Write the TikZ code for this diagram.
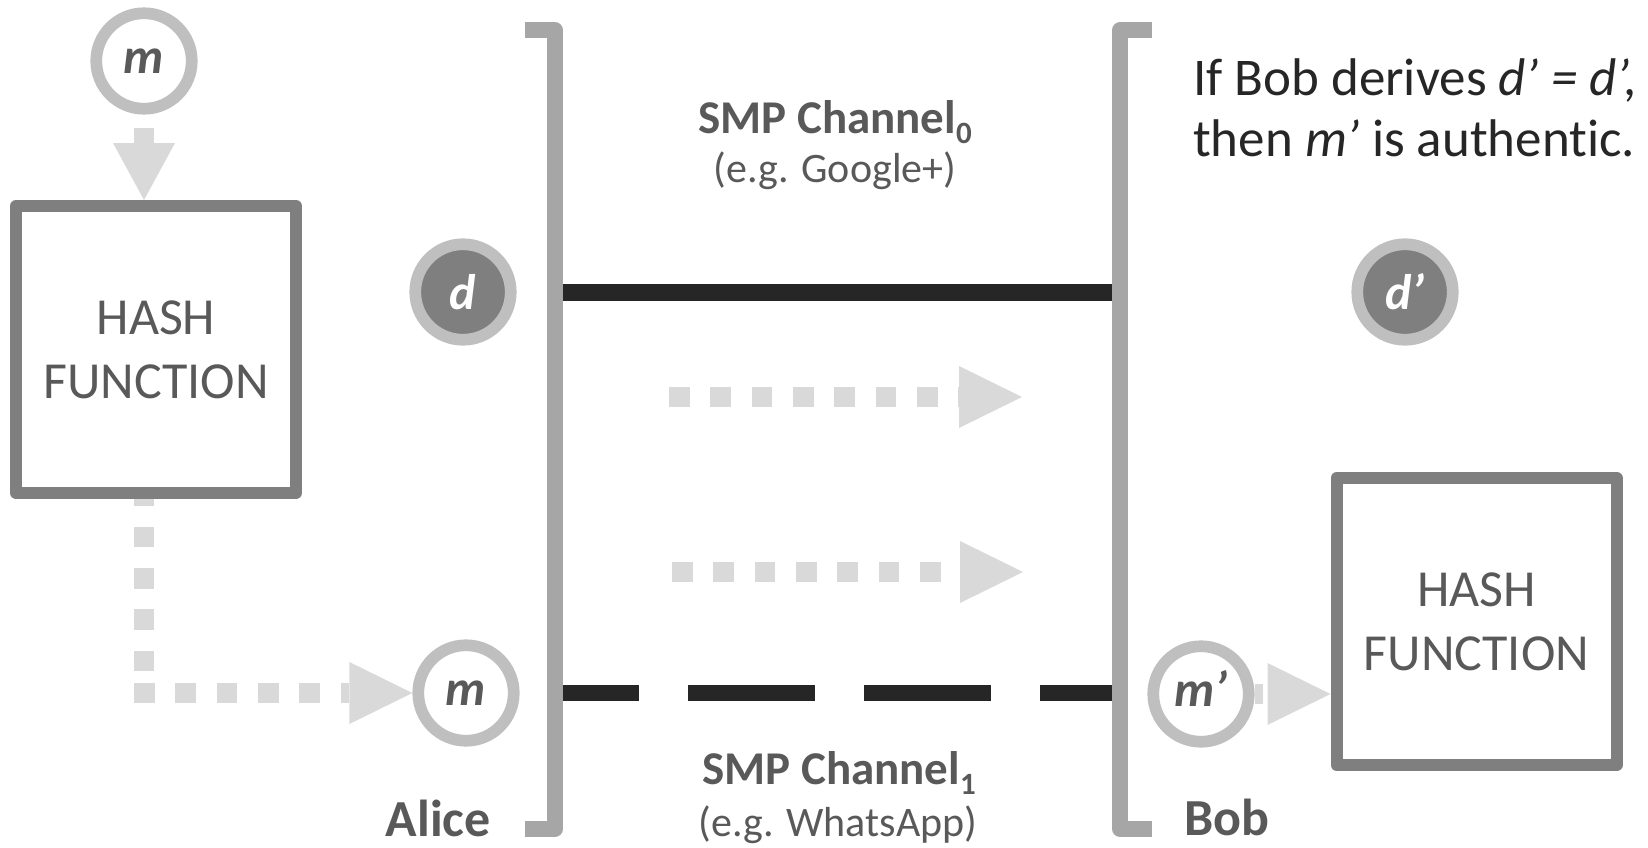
\documentclass[tikz,border=0pt]{standalone}
\usepackage{fontspec}
\setmainfont{Carlito}[Ligatures=NoCommon]
\usetikzlibrary{arrows.meta,calc}

\definecolor{arrowgrey}{HTML}{D9D9D9}
\definecolor{ringgrey}{HTML}{BFBFBF}
\definecolor{fillgrey}{HTML}{7F7F7F}
\definecolor{boxgrey}{HTML}{7F7F7F}
\definecolor{bargrey}{HTML}{A6A6A6}
\definecolor{chandark}{HTML}{262626}
\definecolor{labelgrey}{HTML}{595959}
\definecolor{notedark}{HTML}{262626}

\tikzset{
  ring/.style={circle, draw=ringgrey, line width=11.7pt, minimum size=95.5pt,
    inner sep=0pt, fill=white, text=labelgrey,
    font=\fontsize{50}{50}\selectfont\bfseries\itshape},
  digest/.style={ring, fill=fillgrey, text=white},
  hashbox/.style={rectangle, draw=boxgrey, line width=12pt, line join=round,
    fill=white, minimum width=280pt, minimum height=287pt, inner sep=0pt,
    align=center, text=labelgrey, font=\fontsize{52}{64}\selectfont},
  lightdots/.style={draw=arrowgrey, line width=20.7pt,
    dash pattern=on 20.7pt off 20.6pt},
  headlong/.style={-{Triangle[length=63pt, width=62pt, line width=0pt]}},
  headshort/.style={-{Triangle[length=57pt, width=62pt, line width=0pt]}},
  bracketline/.style={draw=bargrey, line width=15.5pt, line join=round},
  chansolid/.style={draw=chandark, line width=17pt},
  chandashed/.style={draw=chandark, line width=16pt,
    dash pattern=on 127pt off 49pt, dash phase=43pt},
  chantitle/.style={anchor=base, inner sep=0pt, text=labelgrey,
    font=\fontsize{47}{47}\selectfont\bfseries},
  chansub/.style={anchor=base, inner sep=0pt, text=labelgrey,
    font=\fontsize{42}{42}\selectfont},
  party/.style={inner sep=0pt, text=labelgrey,
    font=\fontsize{52}{52}\selectfont\bfseries},
  note/.style={anchor=base west, inner sep=0pt, text=notedark,
    font=\fontsize{53}{60}\selectfont},
}

\newcommand{\chanidx}[1]{\raisebox{-10pt}{\fontsize{31}{31}\selectfont #1}}

\begin{document}
\begin{tikzpicture}[x=1pt,y=-1pt]
\useasboundingbox (0,0) rectangle (1648,848);

% positions of the two parties' bars
\coordinate (abar) at (555,0);
\coordinate (bbar) at (1120,0);

% message, hash boxes and digests
\node[ring]    (mtop)  at (144,61)      {m};
\node[hashbox] (hash1) at (156,349.5)   {HASH\\FUNCTION};
\node[digest]  (dA)    at (463,292)     {d};
\node[ring]    (mA)    at (466,693)     {m};
\node[digest]  (dB)    at (1405,292)    {d\smash{’}};
\node[ring]    (mB)    at (1201,694)    {m\smash{’}};
\node[hashbox] (hash2) at (1476.5,621.5) {HASH\\FUNCTION};

% light dotted arrows
\draw[lightdots, headshort, dash phase=27.8pt] (mtop.south) -- (mtop.south |- hash1.north);

% elbow from the left hash box down and across to Alice's message
\coordinate (elbowtop) at ($(mtop.south |- mA.west)+(0,-10)$);
\coordinate (elbowleft) at ($(mtop.south |- mA.west)+(-10,0)$);
\draw[lightdots, dash phase=13.7pt] (mtop.south |- hash1.south) -- (elbowtop);
\draw[lightdots, headlong] (elbowleft) -- (mA.west);

\draw[lightdots, headlong, dash phase=12.7pt] (mB.east) -- (mB.east -| hash2.west);

\coordinate (flow0s) at (669,397);
\coordinate (flow0e) at (1022,397);
\coordinate (flow1s) at (672,572);
\coordinate (flow1e) at (1023,572);
\draw[lightdots, headlong] (flow0s) -- (flow0e);
\draw[lightdots, headlong] (flow1s) -- (flow1e);

% the two SMP channels
\draw[chansolid]  (dA -| abar) -- (dA -| bbar);
\draw[chandashed] (mA -| abar) -- (mA -| bbar);

% brackets of Alice and Bob
\draw[bracketline] (525,30) -- (abar |- 0,30) -- (abar |- 0,829) -- (525,829);
\draw[bracketline] (1152,30) -- (bbar |- 0,30) -- (bbar |- 0,829) -- (1152,829);

% labels
\node[chantitle] (ch0)  at (835,133) {SMP Channel\chanidx{0}};
\node[chansub]   (eg0)  at (835,182) {(e.g. Google+)};
\node[chantitle] (ch1)  at (839,784) {SMP Channel\chanidx{1}};
\node[chansub]   (eg1)  at (838,836) {(e.g. WhatsApp)};

\node[party, anchor=base east] (alice) at (491,836) {Alice};
\node[party, anchor=base west] (bob)   at (1184,835) {Bob};

\node[note] (note1) at (1193,96)  {If Bob derives \textit{d’ = d’,}};
\node[note] (note2) at (1193,156) {then \textit{m’} is authentic.};
\end{tikzpicture}
\end{document}
